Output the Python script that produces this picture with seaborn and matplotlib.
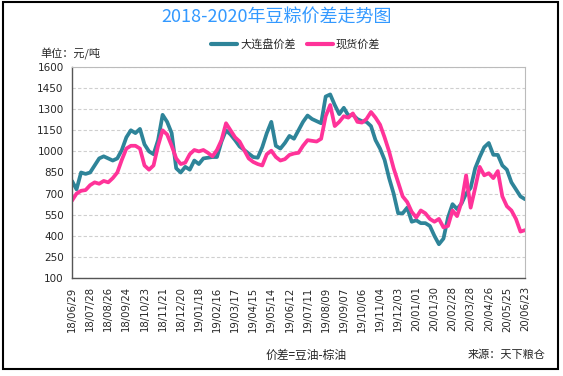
import matplotlib
matplotlib.use("Agg")
import matplotlib.pyplot as plt
import matplotlib.dates as mdates
from matplotlib.lines import Line2D
from matplotlib.patches import Rectangle
import numpy as np
import pandas as pd
import seaborn as sns

# ---------------- data ----------------
start_date = "2018-06-29"
end_date = "2020-06-23"
n_points = 101

dalian_spread = [790, 730, 850, 840, 850, 900, 950, 965, 950, 935,
                 950, 1010, 1100, 1150, 1130, 1160, 1050, 1000, 980, 1080,
                 1260, 1210, 1130, 880, 850, 890, 870, 935, 910, 950,
                 955, 960, 960, 1070, 1150, 1120, 1080, 1035, 1010, 985,
                 960, 955, 1030, 1130, 1210, 1040, 1020, 1060, 1110, 1090,
                 1150, 1210, 1255, 1230, 1215, 1200, 1390, 1405, 1330, 1265,
                 1310, 1255, 1260, 1230, 1215, 1210, 1180, 1080, 1020, 940,
                 810, 700, 560, 560, 600, 500, 510, 490, 490, 470,
                 400, 340, 380, 530, 625, 590, 630, 700, 740, 880,
                 960, 1030, 1060, 976, 975, 900, 870, 780, 730, 680,
                 660]

spot_spread = [650, 700, 720, 725, 760, 780, 770, 790, 780, 810,
               850, 940, 1020, 1040, 1040, 1020, 900, 870, 900, 1040,
               1150, 1120, 1040, 950, 910, 920, 980, 1010, 1000, 1010,
               990, 965, 1010, 1080, 1200, 1150, 1100, 1070, 1010, 950,
               925, 910, 900, 980, 1005, 960, 935, 945, 975, 985,
               990, 1040, 1080, 1075, 1070, 1090, 1250, 1330, 1180, 1210,
               1250, 1240, 1270, 1210, 1205, 1230, 1280, 1240, 1190, 1100,
               1000, 880, 780, 680, 640, 570, 530, 580, 560, 520,
               500, 520, 460, 470, 580, 540, 640, 830, 600, 740,
               890, 830, 845, 810, 860, 680, 610, 580, 520, 430,
               440]

series_names = ["大连盘价差", "现货价差"]
series_colors = ["#2E8499", "#FF3399"]
y_ticks = [100, 250, 400, 550, 700, 850, 1000, 1150, 1300, 1450, 1600]
tick_step_days = 29

title_text = "2018-2020年豆粽价差走势图"
unit_text = "单位：元/吨"
note_text = "价差=豆油-棕油"
source_text = "来源：天下粮仓"

# ---------------- build frame ----------------
dates = pd.date_range(start_date, end_date, periods=n_points)
df = pd.concat([
    pd.DataFrame({"date": dates, "value": dalian_spread, "series": series_names[0]}),
    pd.DataFrame({"date": dates, "value": spot_spread, "series": series_names[1]}),
])

sns.set_style("white")
plt.rcParams["font.family"] = ["Noto Sans CJK SC", "DejaVu Sans"]

W, H = 563, 376
fig = plt.figure(figsize=(W / 100, H / 100), dpi=100)
fig.patch.set_facecolor("white")

ax = fig.add_axes([72 / W, 1 - 278 / H, 453 / W, 211 / H])
sns.lineplot(data=df, x="date", y="value", hue="series",
             palette=dict(zip(series_names, series_colors)),
             linewidth=2.7, ax=ax, legend=False)

ax.set_ylim(100, 1600)
ax.set_yticks(y_ticks)
ax.set_yticklabels([str(v) for v in y_ticks], fontsize=7.5, family="DejaVu Sans")
ax.set_xlim(pd.Timestamp(start_date), pd.Timestamp(end_date))
tick_dates = pd.date_range(start_date, end_date, freq=f"{tick_step_days}D")
ax.set_xticks(tick_dates)
ax.set_xticklabels([d.strftime("%y/%m/%d") for d in tick_dates],
                   rotation=90, fontsize=7.3, family="DejaVu Sans")
ax.set_xlabel("")
ax.set_ylabel("")

ax.yaxis.grid(True, linestyle=(0, (3, 2)), color="#CFCFCF", linewidth=0.8)
ax.xaxis.grid(False)
ax.tick_params(axis="x", direction="in", length=5, width=0.8, color="#333333", pad=6)
ax.tick_params(axis="y", direction="out", length=3, width=0.8, color="#333333", pad=3)
for side in ["left", "bottom"]:
    ax.spines[side].set_color("#555555")
    ax.spines[side].set_linewidth(1.0)
for side in ["top", "right"]:
    ax.spines[side].set_color("#BBBBBB")
    ax.spines[side].set_linewidth(0.8)
    ax.spines[side].set_visible(True)

# title, legend, texts
fig.text(277 / W, 1 - 17 / H, title_text, ha="center", va="center",
         fontsize=13, color="#3399FF")
handles = [Line2D([0], [0], color=c, linewidth=3) for c in series_colors]
fig.legend(handles, series_names, loc="center", bbox_to_anchor=(296 / W, 1 - 44 / H),
           ncol=2, frameon=False, fontsize=8, handlelength=2.3, handletextpad=0.3,
           columnspacing=1.0)
fig.text(40 / W, 1 - 54 / H, unit_text, ha="left", va="center", fontsize=8)
fig.text(306 / W, 1 - 355 / H, note_text, ha="center", va="center", fontsize=8.5)
fig.text(546 / W, 1 - 355 / H, source_text, ha="right", va="center", fontsize=8,
         style="italic")

fig.add_artist(Rectangle((3 / W, 1 - 369 / H), 555 / W, 367 / H,
                         transform=fig.transFigure, fill=False,
                         edgecolor="black", linewidth=1.5))

fig.savefig("out.png", dpi=100, facecolor="white")
